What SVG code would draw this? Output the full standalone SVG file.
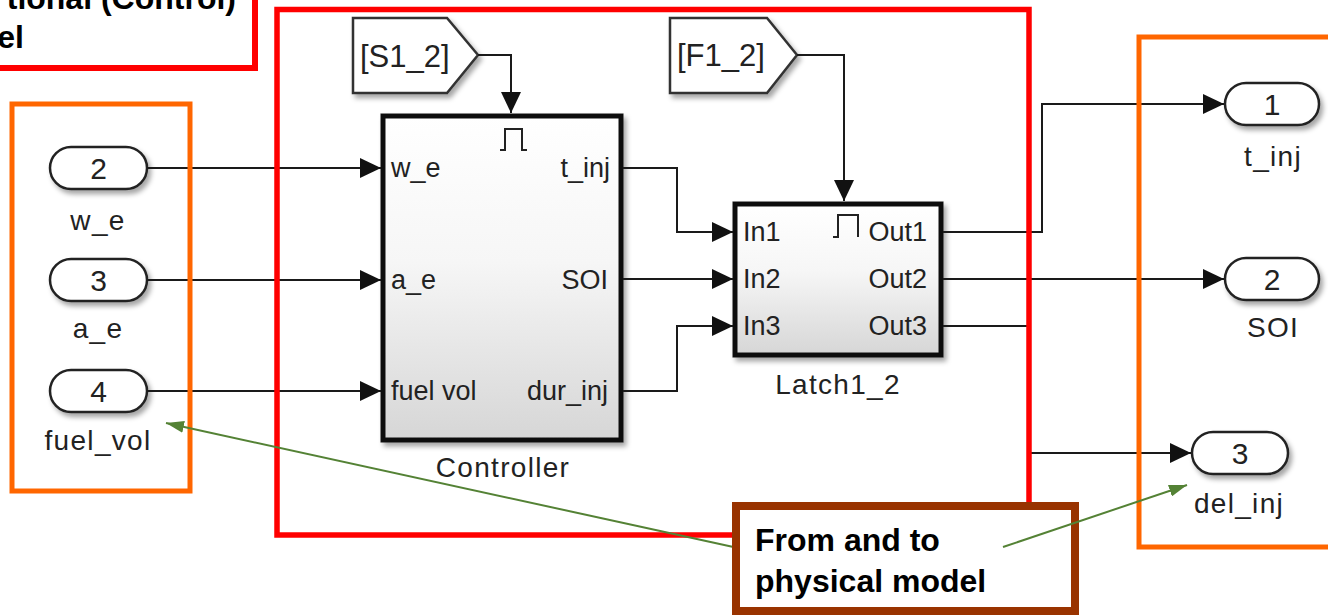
<svg xmlns="http://www.w3.org/2000/svg" width="1328" height="615" viewBox="0 0 1328 615">
<defs>
<linearGradient id="bg" x1="0" y1="0" x2="0" y2="1">
<stop offset="0" stop-color="#ffffff"/>
<stop offset="0.45" stop-color="#f6f6f6"/>
<stop offset="1" stop-color="#d6d6d6"/>
</linearGradient>
<filter id="sh" x="-10%" y="-10%" width="130%" height="140%">
<feDropShadow dx="3" dy="4" stdDeviation="2.5" flood-color="#000" flood-opacity="0.35"/>
</filter>
<marker id="ah" viewBox="0 0 21 20" refX="21" refY="10" markerWidth="21" markerHeight="20" markerUnits="userSpaceOnUse" orient="auto">
<path d="M0,0 L21,10 L0,20 z" fill="#111"/>
</marker>
<marker id="gh" viewBox="0 0 18 12" refX="18" refY="6" markerWidth="18" markerHeight="12" markerUnits="userSpaceOnUse" orient="auto">
<path d="M0,0 L18,6 L0,12 z" fill="#548235"/>
</marker>
</defs>
<style>
.ln{fill:none;stroke:#1a1a1a;stroke-width:2}
.blk{stroke:#111;stroke-width:5;fill:url(#bg)}
.port{fill:#fff;stroke:#222;stroke-width:2.5}
.tag{fill:#fff;stroke:#333;stroke-width:2.5}
.pulse{fill:none;stroke:#222;stroke-width:2}
.t{font-family:"Liberation Sans",Arial,sans-serif;fill:#222}
.in{font-size:27px}
.ext{font-size:28px;letter-spacing:1.3px}
.num{font-size:30px;text-anchor:middle}
.tg{font-size:31px}
.mid{text-anchor:middle}
.end{text-anchor:end}
.frR{fill:none;stroke:#ff0000;stroke-width:5.5}
.frO{fill:none;stroke:#ff6600;stroke-width:5}
.note{font-family:"Liberation Sans",Arial,sans-serif;font-weight:bold;font-size:32px;fill:#000}
.gr{fill:none;stroke:#548235;stroke-width:2}
</style>
<rect width="1328" height="615" fill="#ffffff"/>

<g id="title-box">
<rect x="-10" y="-10" width="265" height="78" fill="#fff" stroke="#ff0000" stroke-width="6"/>
<text class="note" x="236" y="9" text-anchor="end">tional (Control)</text>
<text class="note" x="24" y="48" text-anchor="end">el</text>
</g>

<g id="in-w_e">
<rect class="port" x="50" y="147" width="97" height="42" rx="21" filter="url(#sh)"/>
<text class="t num" x="98.5" y="179">2</text>
<text class="t ext mid" x="98" y="230">w_e</text>
</g>
<g id="in-a_e">
<rect class="port" x="50" y="259" width="97" height="42" rx="21" filter="url(#sh)"/>
<text class="t num" x="98.5" y="291">3</text>
<text class="t ext mid" x="98" y="338">a_e</text>
</g>
<g id="in-fuel_vol">
<rect class="port" x="50" y="370" width="97" height="42" rx="21" filter="url(#sh)"/>
<text class="t num" x="98.5" y="402">4</text>
<text class="t ext mid" x="98" y="450">fuel_vol</text>
</g>

<g id="from-S1_2">
<polygon class="tag" points="353,18 447,18 478,55 447,93 353,93" filter="url(#sh)"/>
<text class="t tg" x="360" y="67">[S1_2]</text>
</g>
<g id="from-F1_2">
<polygon class="tag" points="670,18 767,18 797,55 767,93 670,93" filter="url(#sh)"/>
<text class="t tg" x="677" y="66">[F1_2]</text>
</g>

<g id="controller">
<rect class="blk" x="383" y="116" width="238" height="324" filter="url(#sh)"/>
<path class="pulse" d="M500,150 H505 V129 H522 V150 H527"/>
<text class="t in" x="391" y="177">w_e</text>
<text class="t in end" x="610" y="177">t_inj</text>
<text class="t in" x="391" y="289">a_e</text>
<text class="t in end" x="608" y="289">SOI</text>
<text class="t in" x="391" y="400">fuel vol</text>
<text class="t in end" x="608" y="400">dur_inj</text>
<text class="t ext mid" x="503" y="477">Controller</text>
</g>

<g id="latch">
<rect class="blk" x="735" y="204" width="206" height="151" filter="url(#sh)"/>
<path class="pulse" d="M833,237 H838 V215 H858 V237"/>
<text class="t in" x="743" y="241">In1</text>
<text class="t in" x="743" y="288">In2</text>
<text class="t in" x="743" y="335">In3</text>
<text class="t in end" x="927" y="241">Out1</text>
<text class="t in end" x="927" y="288">Out2</text>
<text class="t in end" x="927" y="335">Out3</text>
<text class="t ext mid" x="838" y="394">Latch1_2</text>
</g>

<g id="out-t_inj">
<rect class="port" x="1225" y="83" width="94" height="42" rx="21" filter="url(#sh)"/>
<text class="t num" x="1272" y="115">1</text>
<text class="t ext mid" x="1273" y="166">t_inj</text>
</g>
<g id="out-SOI">
<rect class="port" x="1225" y="258" width="94" height="42" rx="21" filter="url(#sh)"/>
<text class="t num" x="1272" y="290">2</text>
<text class="t ext mid" x="1273" y="337">SOI</text>
</g>
<g id="out-del_inj">
<rect class="port" x="1192" y="432" width="96" height="42" rx="21" filter="url(#sh)"/>
<text class="t num" x="1240" y="464">3</text>
<text class="t ext mid" x="1239" y="513">del_inj</text>
</g>

<g id="connectors">
<path class="ln" d="M147,168 H381" marker-end="url(#ah)"/>
<path class="ln" d="M147,280 H381" marker-end="url(#ah)"/>
<path class="ln" d="M147,391 H381" marker-end="url(#ah)"/>
<path class="ln" d="M478,55 H511 V113" marker-end="url(#ah)"/>
<path class="ln" d="M797,55 H844 V201" marker-end="url(#ah)"/>
<path class="ln" d="M623,168 H677 V232 H733" marker-end="url(#ah)"/>
<path class="ln" d="M623,279 H733" marker-end="url(#ah)"/>
<path class="ln" d="M623,391 H677 V326 H733" marker-end="url(#ah)"/>
<path class="ln" d="M943,232 H1042 V104 H1224" marker-end="url(#ah)"/>
<path class="ln" d="M943,279 H1224" marker-end="url(#ah)"/>
<path class="ln" d="M943,326 H1028 V453 H1191" marker-end="url(#ah)"/>
</g>

<g id="frames">
<rect class="frR" x="277" y="9.5" width="752" height="525.5"/>
<rect class="frO" x="12" y="104" width="178" height="387"/>
<rect class="frO" x="1139" y="37" width="200" height="510"/>
</g>

<g id="annotation-arrows">
<path class="gr" d="M738,548 L166,423" marker-end="url(#gh)"/>
</g>

<g id="note-box">
<rect x="736" y="506" width="339" height="105" fill="#fff" stroke="#993300" stroke-width="8"/>
<text class="note" x="755" y="551">From and to</text>
<text class="note" x="755" y="592">physical model</text>
</g>

<g id="annotation-arrows-2">
<path class="gr" d="M1003,547 L1187,485" marker-end="url(#gh)"/>
</g>
</svg>
